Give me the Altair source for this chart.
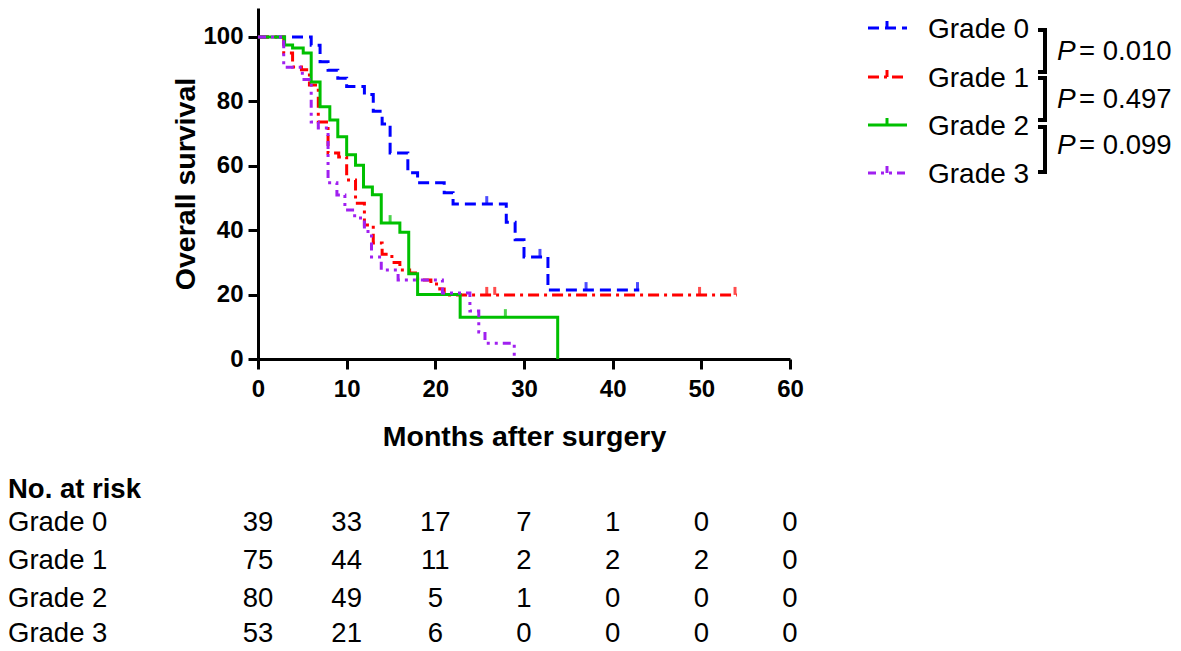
import altair as alt
import pandas as pd

FONT = "Liberation Sans, Arial, sans-serif"

grades = ["Grade 0", "Grade 1", "Grade 2", "Grade 3"]
colors = ["#0000FF", "#FF0000", "#00C000", "#A020F0"]
dashes = [[11, 6], [11, 5, 3, 5], None, [8, 5, 3, 5, 3, 5]]

months = [0, 10, 20, 30, 40, 50, 60]
surv_ticks = [0, 20, 40, 60, 80, 100]

# Kaplan-Meier step points (time in months, survival %)
g0_time = [0, 6.0, 7.0, 7.9, 9.0, 10.0, 12.0, 13.0, 14.0, 14.9, 16.9, 18.0, 21.0, 22.0, 28.0, 29.0, 30.0, 32.7, 43.0]
g0_surv = [100, 97.4, 92.3, 89.7, 87.2, 84.6, 82.1, 76.9, 73.0, 64.0, 57.8, 54.7, 51.6, 48.1, 42.5, 37.0, 31.7, 21.4, 21.4]

g1_time = [0, 2.9, 3.9, 4.9, 5.8, 6.8, 7.9, 9.1, 10.0, 11.0, 12.0, 13.0, 14.0, 15.1, 16.0, 17.1, 18.0, 19.5, 20.5, 21.0, 54.0]
g1_surv = [100, 95.0, 90.7, 89.8, 85.1, 73.6, 64.0, 62.7, 55.6, 48.4, 41.6, 36.0, 32.5, 30.0, 27.6, 26.7, 24.5, 23.3, 21.7, 19.9, 19.9]

g2_time = [0, 3.0, 3.9, 5.1, 6.0, 7.0, 8.1, 9.0, 10.0, 11.0, 11.9, 12.9, 13.9, 16.0, 17.0, 18.0, 22.8, 33.8]
g2_surv = [100, 97.5, 96.6, 95.0, 86.0, 78.3, 74.2, 69.0, 63.4, 60.2, 53.4, 51.0, 42.2, 39.4, 26.5, 20.0, 13.0, 0]

g3_time = [0, 2.9, 5.0, 6.0, 6.8, 7.9, 8.9, 9.8, 10.9, 12.0, 12.8, 13.9, 15.8, 20.8, 23.9, 24.9, 25.6, 28.9]
g3_surv = [100, 90.6, 86.8, 73.6, 71.7, 54.7, 50.9, 46.3, 43.8, 39.6, 31.7, 27.6, 24.5, 20.5, 14.9, 8.4, 4.9, 0]

# censoring marks
c0_time = [25.8, 31.8, 37.0, 42.8]
c0_surv = [48.1, 31.7, 21.4, 21.4]
c1_time = [25.8, 26.7, 49.8, 53.8]
c1_surv = [19.9, 19.9, 19.9, 19.9]
c2_time = [14.9, 27.9]
c2_surv = [42.2, 13.0]

# numbers at risk
risk_g0 = [39, 33, 17, 7, 1, 0, 0]
risk_g1 = [75, 44, 11, 2, 2, 2, 0]
risk_g2 = [80, 49, 5, 1, 0, 0, 0]
risk_g3 = [53, 21, 6, 0, 0, 0, 0]

p_values = ["0.010", "0.497", "0.099"]

curves = [(g0_time, g0_surv), (g1_time, g1_surv), (g2_time, g2_surv), (g3_time, g3_surv)]
censors = [(c0_time, c0_surv), (c1_time, c1_surv), (c2_time, c2_surv), ([], [])]
risks = [risk_g0, risk_g1, risk_g2, risk_g3]

x_scale = alt.Scale(domain=[0, 60], nice=False, zero=False)
y_scale = alt.Scale(domain=[0, 109], nice=False)

x_axis = alt.Axis(
    values=months, grid=False, labelFont=FONT, labelFontSize=24, labelFontWeight="bold",
    labelColor="black", labelPadding=8, labelFlush=False, tickSize=10, tickWidth=3,
    tickColor="black", domainColor="black", domainWidth=3,
    title="Months after surgery", titleFont=FONT, titleFontSize=28.5, titleFontWeight="bold",
    titleColor="black", titleY=77, titleBaseline="middle",
)
y_axis = alt.Axis(
    values=surv_ticks, grid=False, labelFont=FONT, labelFontSize=24, labelFontWeight="bold",
    labelColor="black", labelPadding=5, tickSize=10, tickWidth=3,
    tickColor="black", domainColor="black", domainWidth=3,
    title="Overall survival", titleFont=FONT, titleFontSize=28.5, titleFontWeight="bold",
    titleColor="black", titleX=-73, titleY=175.5, titleBaseline="middle", titleAlign="center",
)

X = alt.X("t:Q", scale=x_scale, axis=x_axis)
Y = alt.Y("s:Q", scale=y_scale, axis=y_axis)

layers = []
for i, (tt, ss) in enumerate(curves):
    df = pd.DataFrame({"t": tt, "s": ss})
    kw = dict(interpolate="step-after", strokeWidth=3, color=colors[i], clip=False)
    if dashes[i]:
        kw["strokeDash"] = dashes[i]
    layers.append(alt.Chart(df).mark_line(**kw).encode(x=X, y=Y))

for i, (tt, ss) in enumerate(censors):
    if not tt:
        continue
    df = pd.DataFrame({"t": tt, "s": ss})
    layers.append(
        alt.Chart(df).mark_tick(orient="vertical", size=8, thickness=3, color=colors[i], yOffset=-4)
        .encode(x=X, y=Y)
    )

one = pd.DataFrame({"k": [0]})

# legend (page coords minus origin 258, 8)
leg_y = [20, 69, 117, 165]
for i, g in enumerate(grades):
    kw = dict(color=colors[i], strokeWidth=3)
    if dashes[i]:
        kw["strokeDash"] = dashes[i]
    layers.append(alt.Chart(one).mark_rule(**kw).encode(
        x=alt.value(610), x2=alt.value(649), y=alt.value(leg_y[i])))
    layers.append(alt.Chart(one).mark_rule(color=colors[i], strokeWidth=3).encode(
        x=alt.value(629), y=alt.value(leg_y[i] - 7), y2=alt.value(leg_y[i])))
    layers.append(alt.Chart(pd.DataFrame({"label": [g]})).mark_text(
        align="left", baseline="middle", font=FONT, fontSize=28, color="black").encode(
        x=alt.value(670), y=alt.value(leg_y[i] + 2), text="label:N"))

# brackets and p-values
br = [(22, 64), (70, 112), (119, 164)]
p_y = [44, 92, 138]
for (a, b), py, pv in zip(br, p_y, p_values):
    layers.append(alt.Chart(one).mark_rule(color="black", strokeWidth=4).encode(
        x=alt.value(787), y=alt.value(a - 2), y2=alt.value(b + 2)))
    for yy in (a, b):
        layers.append(alt.Chart(one).mark_rule(color="black", strokeWidth=4).encode(
            x=alt.value(780), x2=alt.value(789), y=alt.value(yy)))
    layers.append(alt.Chart(pd.DataFrame({"label": ["P"]})).mark_text(
        align="left", baseline="middle", font=FONT, fontSize=28, fontStyle="italic", color="black").encode(
        x=alt.value(799), y=alt.value(py), text="label:N"))
    layers.append(alt.Chart(pd.DataFrame({"label": ["= " + pv]})).mark_text(
        align="left", baseline="middle", font=FONT, fontSize=27.5, color="black").encode(
        x=alt.value(821), y=alt.value(py), text="label:N"))

# risk table
layers.append(alt.Chart(pd.DataFrame({"label": ["No. at risk"]})).mark_text(
    align="left", baseline="middle", font=FONT, fontSize=27.5, fontWeight="bold", color="black").encode(
    x=alt.value(-250), y=alt.value(482), text="label:N"))
row_y = [515, 553, 591, 626]
for i, g in enumerate(grades):
    layers.append(alt.Chart(pd.DataFrame({"label": [g]})).mark_text(
        align="left", baseline="middle", font=FONT, fontSize=27.5, color="black").encode(
        x=alt.value(-250), y=alt.value(row_y[i]), text="label:N"))
    df = pd.DataFrame({"t": months, "n": risks[i]})
    layers.append(alt.Chart(df).mark_text(
        align="center", baseline="middle", font=FONT, fontSize=27.5, color="black").encode(
        x=X, y=alt.value(row_y[i]), text="n:Q"))

chart = alt.layer(*layers).properties(
    width=532, height=351,
    autosize=alt.AutoSizeParams(type="none"),
    padding={"left": 250, "top": 0, "right": 383, "bottom": 292},
    background="white",
).configure_view(stroke=None)

chart.save("out.html", embed_options={"renderer": "svg", "actions": False})
